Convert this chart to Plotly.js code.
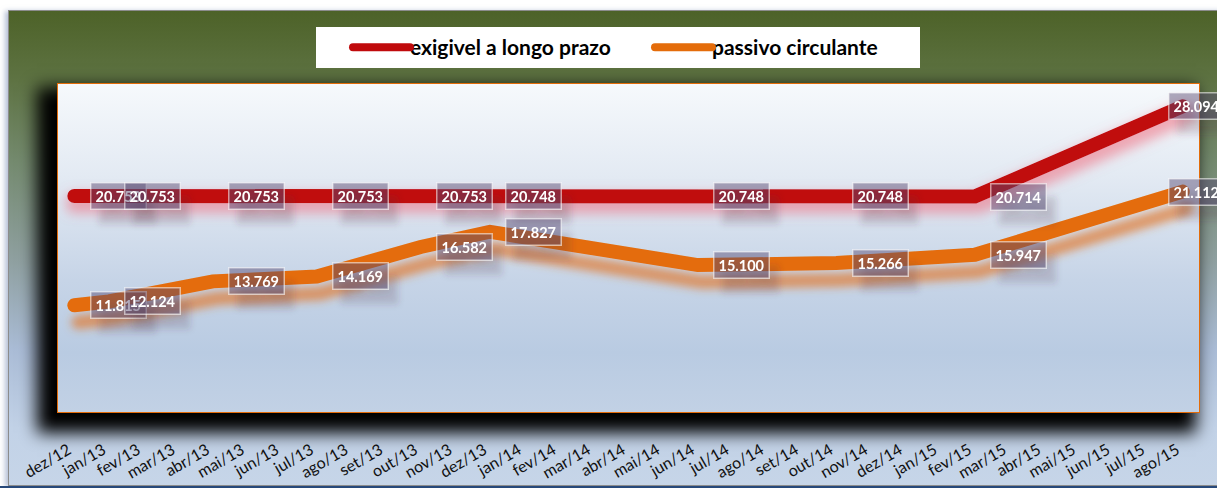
<!DOCTYPE html>
<html><head><meta charset="utf-8">
<script src="https://cdn.plot.ly/plotly-3.0.1.min.js"></script>
<style>
html,body{margin:0;padding:0;background:#fff;width:1217px;height:488px;overflow:hidden;position:relative;}
#frame{position:absolute;left:8px;top:10px;width:1215px;height:474px;border:1px solid #8c8c8c;
 background:linear-gradient(to bottom,#4d6228 0%,#5e7343 14.7%,#748a6e 31.5%,#8fa0a0 52.5%,#aabcd6 71.4%,#c2d2e7 88%,#c6d5e8 100%);
 box-shadow:-3px 1px 5px rgba(120,140,180,0.55);}
#bottomstrip{position:absolute;left:0;top:486px;width:1217px;height:2px;background:#27497a;}
#legbox{position:absolute;left:316px;top:27px;width:604px;height:41px;background:#fff;}
#plotbg{position:absolute;left:57px;top:83px;width:1143px;height:330px;box-sizing:border-box;border:1.5px solid #e36c0a;
 background:linear-gradient(to bottom,#f6f9fc 0%,#e3eaf3 28%,#c6d4e7 60%,#b9cbe2 82%,#c2d1e5 100%);
 box-shadow:-12px 12px 16px 8px #000;}
#chart{position:absolute;left:0;top:0;width:1217px;height:488px;}
.js-line{stroke-linecap:round !important;}
</style></head>
<body>
<div id="frame"></div>
<div id="bottomstrip"></div>
<div id="legbox"></div>
<div id="plotbg"></div>
<svg width="0" height="0" style="position:absolute">
 <defs>
  <filter id="fRed" filterUnits="userSpaceOnUse" x="-300" y="-300" width="2200" height="1200">
   <feMorphology in="SourceAlpha" operator="dilate" radius="3" result="d"/>
   <feGaussianBlur in="d" stdDeviation="6" result="b"/>
   <feOffset in="b" dx="2" dy="7" result="o"/>
   <feFlood flood-color="#f06a7c" flood-opacity="0.55"/>
   <feComposite in2="o" operator="in" result="g"/>
   <feMerge><feMergeNode in="g"/><feMergeNode in="SourceGraphic"/></feMerge>
  </filter>
  <filter id="fOrange" filterUnits="userSpaceOnUse" x="-300" y="-300" width="2200" height="1200">
   <feGaussianBlur in="SourceAlpha" stdDeviation="4" result="b"/>
   <feOffset in="b" dx="4" dy="17" result="o"/>
   <feFlood flood-color="#e07a30" flood-opacity="0.7"/>
   <feComposite in2="o" operator="in" result="s"/>
   <feMerge><feMergeNode in="s"/><feMergeNode in="SourceGraphic"/></feMerge>
  </filter>
  <filter id="fLabel" filterUnits="userSpaceOnUse" x="-300" y="-300" width="2200" height="1200">
   <feGaussianBlur in="SourceAlpha" stdDeviation="3" result="b"/>
   <feOffset in="b" dx="9" dy="14" result="o"/>
   <feFlood flood-color="#503040" flood-opacity="0.35"/>
   <feComposite in2="o" operator="in" result="s"/>
   <feMerge><feMergeNode in="s"/><feMergeNode in="SourceGraphic"/></feMerge>
  </filter>
 </defs>
</svg>
<div id="chart"></div>
<script>
// ---- data ----
const months = ['dez/12','jan/13','fev/13','mar/13','abr/13','mai/13','jun/13','jul/13','ago/13','set/13','out/13','nov/13',
  'dez/13','jan/14','fev/14','mar/14','abr/14','mai/14','jun/14','jul/14','ago/14','set/14','out/14','nov/14',
  'dez/14','jan/15','fev/15','mar/15','abr/15','mai/15','jun/15','jul/15','ago/15'];
const pointMonths = ['dez/12','jan/13','abr/13','jul/13','out/13','dez/13','jun/14','out/14','fev/15','ago/15'];
const exigivel = [20753,20753,20753,20753,20753,20748,20748,20748,20714,28094];
const passivo  = [11815,12124,13769,14169,16582,17827,15100,15266,15947,21112];
const seriesNames = ['exigivel a longo prazo','passivo circulante'];

// ---- styles ----
const colRed = '#c00a0c', colOrange = '#e46c0a';
const FONT = 'Lato, "Open Sans", sans-serif';

function fmt(v){ return String(Math.round(v)).replace(/\B(?=(\d{3})+(?!\d))/g,'.'); }

const annotations = [];
[exigivel, passivo].forEach(arr => {
  arr.forEach((v,i) => {
    const last = i === arr.length-1;
    annotations.push({
      x: pointMonths[i], y: v, xref:'x', yref:'y', text: '<b>'+fmt(v)+'</b>', showarrow:false,
      xshift: last ? 14 : 44,
      font:{family:FONT, size:14.5, color:'#ffffff'},
      bgcolor:'rgba(85,70,110,0.45)', bordercolor:'rgba(255,255,255,0.55)', borderwidth:1.5, borderpad:4
    });
  });
});

const traces = [
  {x: pointMonths, y: exigivel, name: seriesNames[0], type:'scatter', mode:'lines',
   line:{color:colRed, width:14}},
  {x: pointMonths, y: passivo, name: seriesNames[1], type:'scatter', mode:'lines',
   line:{color:colOrange, width:14}}
];

const layout = {
  width:1217, height:488,
  margin:{l:57, r:17, t:83, b:75, pad:0},
  paper_bgcolor:'rgba(0,0,0,0)', plot_bgcolor:'rgba(0,0,0,0)',
  xaxis:{type:'category', categoryorder:'array', categoryarray: months, range:[-0.5, 32.5],
    tickmode:'array', tickvals: months, ticktext: months, tickangle:-30,
    tickfont:{family:FONT, size:16, color:'#111'}, showgrid:false, zeroline:false, showline:false,
    ticks:'', ticklabelstandoff:24, ticklabelshift:-6, fixedrange:true},
  yaxis:{range:[3000, 30000], visible:false, showgrid:false, zeroline:false, fixedrange:true},
  showlegend:true,
  legend:{orientation:'h', x:(348-57)/1143, xanchor:'left', y:(413-47.5)/330, yanchor:'middle',
    bgcolor:'rgba(0,0,0,0)', borderwidth:0, font:{family:FONT, size:21, color:'#000', weight:'bold'},
    itemwidth:52, entrywidth:235, entrywidthmode:'pixels', traceorder:'normal'},
  annotations: annotations
};

Plotly.newPlot('chart', traces, layout, {displayModeBar:false, staticPlot:true}).then(gd => {
  const tr = gd.querySelectorAll('.scatterlayer .trace');
  if (tr[0]) tr[0].setAttribute('filter','url(#fRed)');
  if (tr[1]) tr[1].setAttribute('filter','url(#fOrange)');
  gd.querySelectorAll('.annotation').forEach(a => a.setAttribute('filter','url(#fLabel)'));
  gd.querySelectorAll('.legendlines path').forEach(p => {
    p.setAttribute('d','M5,0h57');
    p.style.strokeWidth = '8px';
    p.style.strokeLinecap = 'round';
  });
});
</script>
</body></html>
